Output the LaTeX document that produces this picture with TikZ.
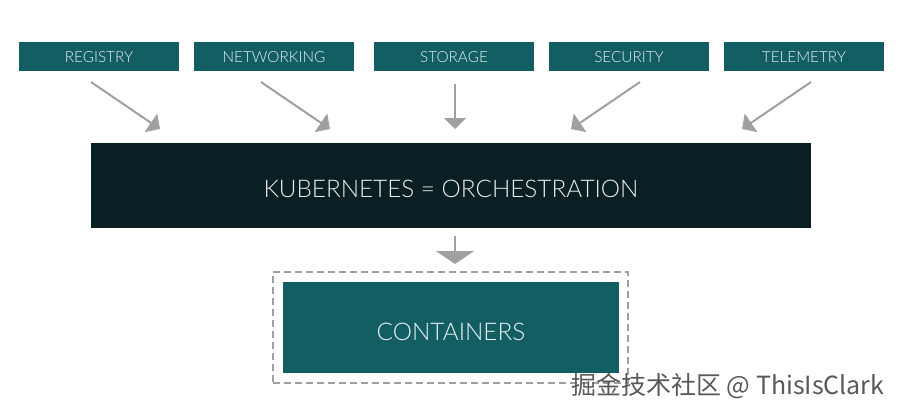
\documentclass[tikz,border=0pt]{standalone}
\usepackage{fontspec}
\setmainfont{Lato Light}
\newfontfamily\cjk{Noto Sans CJK SC}
\usetikzlibrary{arrows.meta}
\definecolor{teal}{RGB}{19,94,99}
\definecolor{darkk}{RGB}{9,31,35}
\definecolor{arr}{RGB}{160,160,160}
\tikzset{
  topbox/.style={fill=teal,draw=none,minimum width=160pt,minimum height=29pt,inner sep=0pt},
  toplabel/.style={anchor=base,inner sep=0pt,text=white!90!teal,font=\fontsize{15.3}{15.3}\selectfont},
  biglabel/.style={anchor=base,inner sep=0pt,font=\fontsize{24.3}{24.3}\selectfont},
  conn/.style={draw=arr,line width=2pt,-{Triangle[width=22pt,length=11pt]}},
  bigconn/.style={draw=arr,line width=2pt,-{Triangle[width=38pt,length=13pt]}}
}
\begin{document}
\begin{tikzpicture}[x=1pt,y=-1pt]
\useasboundingbox (0,0) rectangle (902,416);
\node[topbox] (reg) at (99,56.5) {};
\node[topbox] (net) at (274,56.5) {};
\node[topbox] (sto) at (454,56.5) {};
\node[topbox] (sec) at (629,56.5) {};
\node[topbox] (tel) at (804,56.5) {};
\node[toplabel] (regt) at (99,62.3) {REGISTRY};
\node[toplabel] (nett) at (274,62.3) {NETWORKING};
\node[toplabel] (stot) at (454,62.3) {STORAGE};
\node[toplabel] (sect) at (629,62.3) {SECURITY};
\node[toplabel] (telt) at (804,62.3) {TELEMETRY};
\node[fill=darkk,minimum width=720pt,minimum height=85pt,inner sep=0pt] (kub) at (451,185.5) {};
\node[biglabel,text=white!92!darkk] (kubt) at (451,197) {KUBERNETES = ORCHESTRATION};
\node[draw=arr,dashed,dash pattern=on 7pt off 4pt,line width=1.8pt,minimum width=355pt,minimum height=111pt,inner sep=0pt] (dash) at (450.5,327.5) {};
\node[fill=teal,minimum width=336pt,minimum height=91pt,inner sep=0pt] (con) at (451,327.5) {};
\node[biglabel,text=white!92!teal] (cont) at (451,340.5) {CONTAINERS};
\coordinate (r1) at (91,82); \coordinate (r2) at (160,129);
\coordinate (n1) at (261,82); \coordinate (n2) at (330,129);
\coordinate (s1) at (455,84); \coordinate (s2) at (455,129);
\coordinate (c1) at (640,82); \coordinate (c2) at (571,129);
\coordinate (t1) at (811,82); \coordinate (t2) at (742,129);
\coordinate (k1) at (455,236); \coordinate (k2) at (455,264);
\draw[conn] (r1) -- (r2);
\draw[conn] (n1) -- (n2);
\draw[conn] (s1) -- (s2);
\draw[conn] (c1) -- (c2);
\draw[conn] (t1) -- (t2);
\draw[bigconn] (k1) -- (k2);
\node[anchor=west,inner sep=0pt,text=gray!70!black,font=\fontsize{25}{25}\selectfont] (wm) at (571,386) {\cjk 掘金技术社区 @ ThisIsClark};
\end{tikzpicture}
\end{document}
